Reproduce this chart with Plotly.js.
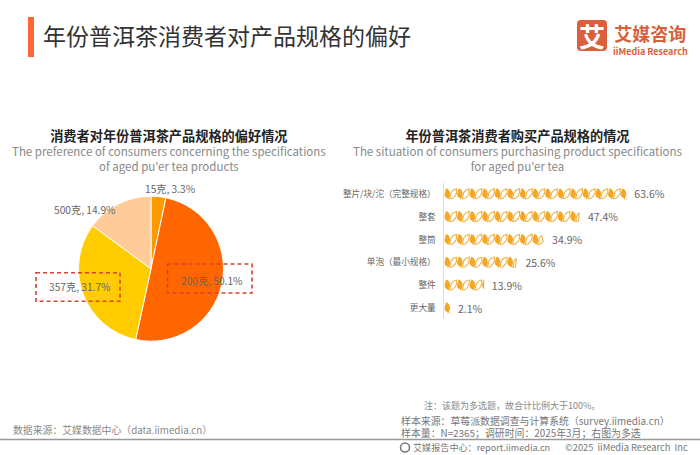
<!DOCTYPE html>
<html><head><meta charset="utf-8">
<script src="https://cdn.plot.ly/plotly-3.0.1.min.js"></script>
<style>html,body{margin:0;padding:0;background:#fff}#c{width:700px;height:455px}</style></head>
<body><div id="c"></div>
<script>
var pieLabels = ["15克", "200克", "357克", "500克"];
var pieValues = [3.3, 50.1, 31.7, 14.9];
var pieColors = ["#ff9900", "#ff6600", "#ffcc00", "#ffcc99"];
var barCategories = ["整片/块/沱（完整规格）", "整套", "整筒", "单泡（最小规格）", "整件", "更大量"];
var barValues = [63.6, 47.4, 34.9, 25.6, 13.9, 2.1];
var W = 700, H = 455, FONT = '"Noto Sans CJK SC","Noto Sans",sans-serif';
function px(x){return x/W;} function py(y){return 1-y/H;}

// Pictogram leaf: one unit of the bar, cut off at the bar's value
var leafUnit = 4.39, leafH = 0.5;
var fillTpl = [[0.16,-0.5],[0.3,-0.42],[0.42,-0.22],[0.46,0],[0.42,0.2],[0.32,0.36],[0.3,0.5],[0.24,0.36],[0.08,0.26],[0,0.05],[0.03,-0.2],[0.1,-0.38]];
var lineTpl = [[0.46,0.42],[0.66,0.38],[0.86,0.16],[0.98,-0.12],[0.98,-0.46],[0.72,-0.36],[0.54,-0.12],[0.5,0.12],[0.42,0.46]];
var fx=[],fy=[],lx=[],ly=[];
barValues.forEach(function(v,i){
  for(var n=0;n*leafUnit<v;n++){
    fillTpl.forEach(function(p){var x=(n+p[0])*leafUnit; if(x-v<leafUnit*0.5){fx.push(Math.min(x,v));fy.push(i+p[1]*leafH);}});
    fx.push(null);fy.push(null);
    var pts=lineTpl.filter(function(p){return (n+p[0])*leafUnit<=v;});
    pts.forEach(function(p){lx.push((n+p[0])*leafUnit);ly.push(i+p[1]*leafH);});
    lx.push(null);ly.push(null);
  }
});
var idx = barCategories.map(function(_,i){return i;});
var traces = [
 {type:'pie',labels:pieLabels,values:pieValues,sort:false,direction:'clockwise',rotation:0,
  marker:{colors:pieColors,line:{color:'#fff',width:1}},textinfo:'none',hoverinfo:'none',showlegend:false,
  domain:{x:[px(78.5),px(223.5)],y:[py(341.2),py(196.2)]}},
 {type:'bar',orientation:'h',x:barValues,y:idx,marker:{color:'rgba(0,0,0,0)'},hoverinfo:'none',
  text:barValues.map(function(v){return '  '+v.toFixed(1)+'%';}),textposition:'outside',cliponaxis:false,constraintext:'none',
  textfont:{family:FONT,size:10.5,color:'#666'},width:0.5,showlegend:false},
 {type:'scatter',mode:'lines',x:fx,y:fy,fill:'toself',fillcolor:'#f5a623',line:{width:0,color:'#f5a623'},hoverinfo:'none',showlegend:false},
 {type:'scatter',mode:'lines',x:lx,y:ly,line:{width:1.1,color:'#f0b348'},hoverinfo:'none',showlegend:false}
];
function T(x,y,text,size,color,anchor,bold){
  return {xref:'paper',yref:'paper',x:px(x),y:py(y),text:bold?'<b>'+text+'</b>':text,showarrow:false,
    xanchor:anchor||'left',yanchor:'middle',align:anchor||'left',font:{family:FONT,size:size,color:color},borderpad:0,borderwidth:0};
}
function S(text,size,color,bold){
  var t='<span style="font-size:'+size+'px'+(color?';color:'+color:'')+'">'+text+'</span>';
  return bold?'<b>'+t+'</b>':t;
}
var annotations = [
 T(43,35,"年份普洱茶消费者对产品规格的偏好",23,'#333'),
 T(592,36,"艾",26,'#fff','center',true),
 T(650,39,S("艾媒咨询",18,null,true)+"<br>"+S("iiMedia Research",9,null,true),11,'#d9603b','center'),
 T(169,150.5,S("消费者对年份普洱茶产品规格的偏好情况",13.2,'#222',true)+"<br>The preference of consumers concerning the specifications<br>of aged pu'er tea products",11.5,'#888','center'),
 T(517,150.5,S("年份普洱茶消费者购买产品规格的情况",13.2,'#222',true)+"<br>The situation of consumers purchasing product specifications<br>for aged pu'er tea",11.5,'#888','center'),
 T(170,188,pieLabels[0]+", "+pieValues[0]+"%",10.2,'#666','center'),
 T(84,209.7,pieLabels[3]+", "+pieValues[3]+"%",10.2,'#666','center'),
 T(79,286.7,pieLabels[2]+", "+pieValues[2]+"%",10.2,'#666','center'),
 T(211,280,pieLabels[1]+", "+pieValues[1]+"%",10.2,'#666','center'),
 T(424,405,"注：该题为多选题，故合计比例大于100%。",9,'#888'),
 T(401,427,S("样本来源：草莓派数据调查与计算系统（survey.iimedia.cn）",9.9)+"<br>"+S("样本量：N=2365；调研时间：2025年3月；右图为多选",9.9),8.85,'#777'),
 T(13,430,"数据来源：艾媒数据中心（data.iimedia.cn）",9.85,'#888'),
 T(413,447,"艾媒报告中心：report.iimedia.cn",9.1,'#777'),
 T(565,447,"©2025  iiMedia Research  Inc",9.3,'#777')
];
function R(x0,y0,x1,y1,o){return Object.assign({type:'rect',xref:'paper',yref:'paper',x0:px(x0),x1:px(x1),y0:py(y0),y1:py(y1)},o);}
var shapes = [
 R(28,17,34,57,{fillcolor:'#ff6633',line:{width:0}}),
 {type:'path',xref:'paper',yref:'paper',fillcolor:'#d9603b',line:{width:0},
  path:'M'+px(581)+','+py(20)+' L'+px(603)+','+py(20)+' Q'+px(607)+','+py(20)+' '+px(607)+','+py(24)+' L'+px(607)+','+py(47)+' Q'+px(607)+','+py(51)+' '+px(603)+','+py(51)+' L'+px(581)+','+py(51)+' Q'+px(577)+','+py(51)+' '+px(577)+','+py(47)+' L'+px(577)+','+py(24)+' Q'+px(577)+','+py(20)+' '+px(581)+','+py(20)+' Z'},
 R(36,272.7,120,301.3,{line:{color:'#d9432f',width:1.6,dash:'4px,3px'}}),
 R(167.5,264,252,293,{line:{color:'#d9432f',width:1.6,dash:'4px,3px'}}),
 {type:'line',xref:'paper',yref:'paper',x0:0,x1:1,y0:py(439.5),y1:py(439.5),line:{color:'#999',width:1.5}},
 {type:'circle',xref:'paper',yref:'paper',x0:px(400.5),x1:px(409.5),y0:py(443),y1:py(452),line:{color:'#777',width:1.5}}
];
var layout = {
 width:W,height:H,margin:{l:0,r:0,t:0,b:0},paper_bgcolor:'#fff',plot_bgcolor:'rgba(0,0,0,0)',showlegend:false,
 font:{family:FONT},
 xaxis:{domain:[px(444.3),px(673.7)],range:[0,80],visible:false,fixedrange:true},
 yaxis:{domain:[py(319),py(183)],range:[5.482,-0.482],anchor:'x',tickmode:'array',tickvals:idx,ticktext:barCategories,
   showgrid:false,zeroline:false,showline:true,linecolor:'#ddd',linewidth:1,ticks:'',ticklabelstandoff:6,
   tickfont:{family:FONT,size:8.6,color:'#666'},fixedrange:true},
 annotations:annotations,shapes:shapes
};
Plotly.newPlot('c',traces,layout,{displayModeBar:false,staticPlot:true});
</script></body></html>
